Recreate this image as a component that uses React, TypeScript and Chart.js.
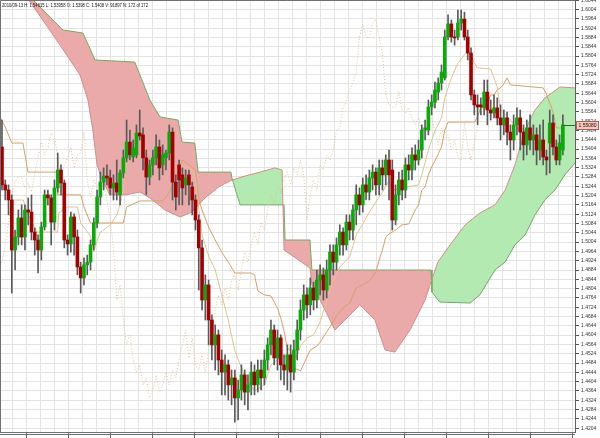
import React, { useEffect, useRef } from "react";
import { Chart, registerables } from "chart.js";

Chart.register(...registerables);

const HEADER = "2010/09-13 H: 1.54615 L: 1.53958 O: 1.5398 C: 1.5408 V: 91897 N: 172 of 172";

const opens = [
  1.5413, 1.525, 1.5228, 1.5185, 1.497, 1.5026, 1.5108, 1.5026, 1.5142, 1.5133,
  1.5047, 1.5013, 1.497, 1.5069, 1.5207, 1.5194, 1.509, 1.5237, 1.5314, 1.5258,
  1.5013, 1.4996, 1.5112, 1.5026, 1.4897, 1.485, 1.4906, 1.4918, 1.4992, 1.5086,
  1.5198, 1.5262, 1.5288, 1.528, 1.5237, 1.5258, 1.5207, 1.5301, 1.5366, 1.5434,
  1.537, 1.5379, 1.5473, 1.5465, 1.5366, 1.5284, 1.5336, 1.5366, 1.5413, 1.5336,
  1.5366, 1.5387, 1.5477, 1.5262, 1.5336, 1.5293, 1.525, 1.5293, 1.5241, 1.5185,
  1.5099, 1.4979, 1.4755, 1.482, 1.4669, 1.4562, 1.4605, 1.4497, 1.4445, 1.4476,
  1.439, 1.442, 1.4334, 1.4368, 1.4433, 1.4359, 1.439, 1.4445, 1.439, 1.4454,
  1.442, 1.4497, 1.4562, 1.4626, 1.4506, 1.4592, 1.4476, 1.4454, 1.4519, 1.4445,
  1.454, 1.4626, 1.4712, 1.4777, 1.4734, 1.4807, 1.4755, 1.4841, 1.4863, 1.4798,
  1.4884, 1.4961, 1.4918, 1.4992, 1.5047, 1.4992, 1.509, 1.5056, 1.5142, 1.5207,
  1.5164, 1.525, 1.5219, 1.528, 1.5305, 1.525, 1.5323, 1.5293, 1.5357, 1.5314,
  1.5099, 1.5207, 1.5271, 1.5228, 1.5336, 1.5314, 1.5379, 1.5357, 1.54, 1.5486,
  1.5486, 1.5585, 1.5606, 1.5649, 1.5688, 1.571, 1.5886, 1.5942, 1.5886, 1.5886,
  1.5946, 1.5963, 1.5886, 1.5817, 1.5637, 1.5594, 1.5594, 1.5581, 1.5649, 1.5572,
  1.5559, 1.5581, 1.5538, 1.5508, 1.5538, 1.5477, 1.5443, 1.5508, 1.5538, 1.5477,
  1.5422, 1.5495, 1.5443, 1.5465, 1.54, 1.5443, 1.537, 1.543, 1.5516, 1.5413,
  1.5357, 1.54,
];

const closes = [
  1.525, 1.5228, 1.5185, 1.497, 1.5026, 1.5108, 1.5026, 1.5142, 1.5133, 1.5047,
  1.5013, 1.497, 1.5069, 1.5207, 1.5194, 1.509, 1.5237, 1.5314, 1.5258, 1.5013,
  1.4996, 1.5112, 1.5026, 1.4897, 1.485, 1.4906, 1.4918, 1.4992, 1.5086, 1.5198,
  1.5262, 1.5288, 1.528, 1.5237, 1.5258, 1.5219, 1.5301, 1.5366, 1.5434, 1.5379,
  1.5409, 1.5473, 1.546, 1.5366, 1.5284, 1.5336, 1.5366, 1.5413, 1.5323, 1.5379,
  1.5387, 1.5477, 1.5262, 1.5198, 1.5271, 1.5237, 1.528, 1.525, 1.5185, 1.5099,
  1.4979, 1.4755, 1.482, 1.4669, 1.4562, 1.4605, 1.4497, 1.4445, 1.4476, 1.439,
  1.442, 1.4334, 1.4368, 1.4433, 1.4359, 1.439, 1.4445, 1.439, 1.4454, 1.442,
  1.4497, 1.4562, 1.4626, 1.4506, 1.4592, 1.4476, 1.4454, 1.4519, 1.4445, 1.454,
  1.4626, 1.4712, 1.4777, 1.4734, 1.4807, 1.4755, 1.4841, 1.4863, 1.4798, 1.4884,
  1.4961, 1.4918, 1.4992, 1.5047, 1.4992, 1.509, 1.5056, 1.5142, 1.5207, 1.5164,
  1.525, 1.5219, 1.528, 1.5305, 1.525, 1.5323, 1.5293, 1.5357, 1.5293, 1.5099,
  1.5207, 1.5271, 1.5228, 1.5336, 1.5314, 1.5379, 1.5357, 1.54, 1.5486, 1.5495,
  1.5585, 1.5606, 1.5658, 1.5688, 1.5735, 1.5886, 1.5942, 1.5886, 1.5882, 1.5946,
  1.5963, 1.5886, 1.5817, 1.5637, 1.5594, 1.5585, 1.5585, 1.5649, 1.5572, 1.5559,
  1.5581, 1.5538, 1.5508, 1.5538, 1.5477, 1.5443, 1.5508, 1.5538, 1.5477, 1.5422,
  1.5495, 1.5443, 1.5465, 1.54, 1.5443, 1.537, 1.5357, 1.5516, 1.5413, 1.5357,
  1.543, 1.5508,
];

const highs = [
  1.5529, 1.5271, 1.525, 1.5207, 1.5056, 1.5142, 1.5164, 1.5164, 1.5194, 1.5207,
  1.5065, 1.5035, 1.509, 1.5228, 1.5228, 1.5207, 1.5271, 1.5387, 1.5336, 1.5271,
  1.5035, 1.5133, 1.5125, 1.5056, 1.4918, 1.4936, 1.4948, 1.5013, 1.5108, 1.5228,
  1.5305, 1.5323, 1.5336, 1.5314, 1.5293, 1.5357, 1.5314, 1.54, 1.5529, 1.5486,
  1.5443, 1.5508, 1.5572, 1.5495, 1.54, 1.5357, 1.54, 1.5465, 1.5443, 1.5422,
  1.54, 1.5508, 1.5495, 1.5293, 1.5357, 1.5323, 1.5314, 1.5314, 1.5262, 1.5207,
  1.5121, 1.5013, 1.4863, 1.4841, 1.4691, 1.4648, 1.4626, 1.454, 1.4519, 1.4497,
  1.4454, 1.4454, 1.4411, 1.4476, 1.4454, 1.4433, 1.4489, 1.4476, 1.4497, 1.4497,
  1.454, 1.4592, 1.4669, 1.4648, 1.4626, 1.4605, 1.4519, 1.4562, 1.4562, 1.4583,
  1.4669, 1.4755, 1.482, 1.4807, 1.485, 1.4832, 1.4884, 1.4906, 1.4893, 1.4927,
  1.4992, 1.4992, 1.5022, 1.5078, 1.5065, 1.5121, 1.5121, 1.5164, 1.525, 1.5237,
  1.528, 1.5293, 1.5314, 1.5336, 1.5323, 1.5357, 1.5357, 1.5379, 1.54, 1.5357,
  1.525, 1.5305, 1.5314, 1.5366, 1.5379, 1.5409, 1.5422, 1.5443, 1.5508, 1.5529,
  1.5615, 1.5637, 1.5692, 1.571, 1.5766, 1.5916, 1.5981, 1.5959, 1.5916, 1.6002,
  1.6002, 1.5993, 1.5916, 1.5839, 1.5658, 1.5637, 1.5624, 1.5701, 1.5701, 1.5615,
  1.5637, 1.5624, 1.5594, 1.5572, 1.5563, 1.5508, 1.5551, 1.5581, 1.5572, 1.5508,
  1.5529, 1.5551, 1.5508, 1.5495, 1.5508, 1.5529, 1.54, 1.5572, 1.5551, 1.5443,
  1.5465, 1.5551,
];

const lows = [
  1.5228, 1.5185, 1.5121, 1.4785, 1.4884, 1.4992, 1.4992, 1.497, 1.5078, 1.5013,
  1.4948, 1.4871, 1.4927, 1.5056, 1.5164, 1.4992, 1.5056, 1.5219, 1.5207, 1.4979,
  1.4948, 1.4961, 1.4948, 1.4863, 1.4785, 1.482, 1.4863, 1.4884, 1.497, 1.5065,
  1.5164, 1.5228, 1.525, 1.5207, 1.5185, 1.5185, 1.5164, 1.528, 1.5349, 1.5357,
  1.5349, 1.5366, 1.5443, 1.5314, 1.5207, 1.525, 1.5293, 1.5336, 1.5271, 1.5293,
  1.5314, 1.5357, 1.5185, 1.5142, 1.5164, 1.5164, 1.5207, 1.5164, 1.5121, 1.5056,
  1.4798, 1.4712, 1.4669, 1.4562, 1.4497, 1.4454, 1.4433, 1.4347, 1.4347, 1.4325,
  1.4304, 1.423, 1.4239, 1.4325, 1.4304, 1.4282, 1.4347, 1.4347, 1.4359, 1.4368,
  1.439, 1.4454, 1.4519, 1.4476, 1.4454, 1.4411, 1.439, 1.4368, 1.4359, 1.4411,
  1.4497, 1.4583, 1.4669, 1.4678, 1.4691, 1.4712, 1.4721, 1.4777, 1.4755, 1.4764,
  1.482, 1.4863, 1.4884, 1.4948, 1.4948, 1.497, 1.5013, 1.5013, 1.5078, 1.5121,
  1.5133, 1.5185, 1.5185, 1.5228, 1.5207, 1.5207, 1.5228, 1.525, 1.5185, 1.5056,
  1.5078, 1.5164, 1.5185, 1.5194, 1.5271, 1.5271, 1.5314, 1.5336, 1.5366, 1.5443,
  1.5465, 1.5551, 1.5581, 1.5615, 1.5658, 1.5701, 1.5873, 1.5864, 1.5851, 1.5873,
  1.5916, 1.5873, 1.5787, 1.5615, 1.5551, 1.5508, 1.5551, 1.5551, 1.5508, 1.5529,
  1.5538, 1.5508, 1.5443, 1.5465, 1.5422, 1.5357, 1.54, 1.5465, 1.54, 1.5357,
  1.5379, 1.54, 1.5379, 1.5336, 1.5357, 1.5336, 1.5293, 1.5301, 1.5379, 1.5336,
  1.5336, 1.5379,
];

// [bar index, price]
const tenkan: [number, number][] = [
  [-0.6, 1.5293], [3, 1.5185], [6.5, 1.5185], [8, 1.5121], [10.7, 1.5047], [17, 1.5047],
  [17.3, 1.5129], [20, 1.5155], [23, 1.5155], [24, 1.5086], [27, 1.503], [28, 1.4961],
  [29, 1.5009], [30, 1.5047], [31, 1.5056], [33, 1.5078], [34, 1.5099], [35, 1.5121],
  [36, 1.5164], [37, 1.5232], [38, 1.5349], [39, 1.5357], [42, 1.537], [45, 1.5391],
  [48, 1.5391], [51, 1.5357], [53, 1.5327], [57, 1.5327], [59, 1.5284], [60, 1.5146],
  [61, 1.5035], [63, 1.4944], [65, 1.4884], [67, 1.4777], [69, 1.4669], [71, 1.4536],
  [74, 1.4428], [77, 1.4364], [80, 1.439], [82, 1.4476], [85, 1.451], [90, 1.4514],
  [91, 1.4557], [93, 1.4592], [95, 1.4605], [97, 1.4661], [99, 1.4755], [101, 1.4837],
  [103, 1.4897], [106, 1.494], [108, 1.5035], [110, 1.5082], [112, 1.5133], [114, 1.5176],
  [116, 1.5219], [118, 1.5267], [119, 1.5228], [127, 1.525], [128, 1.5293], [130, 1.54],
  [132, 1.5482], [134, 1.5538], [135, 1.5624], [137, 1.571], [139, 1.5774], [141, 1.5809],
  [142, 1.583], [143, 1.5809], [144, 1.5774], [145, 1.5753], [149, 1.5748], [150, 1.571],
  [151, 1.5671], [152, 1.5572], [155, 1.5529], [157, 1.5495], [159, 1.549], [161, 1.5469],
  [163, 1.5456], [165, 1.5456], [167, 1.543], [171, 1.543],
];

const kijun: [number, number][] = [
  [-0.6, 1.5542], [1, 1.5499], [3, 1.543], [6.4, 1.543], [7.9, 1.5305], [16.8, 1.5305],
  [17, 1.5207], [24, 1.5207], [25, 1.5155], [27, 1.5086], [37, 1.5086], [38, 1.5155],
  [42, 1.5181], [49, 1.5181], [50, 1.5198], [51, 1.5219], [53, 1.5271], [54, 1.5318],
  [55, 1.5357], [59, 1.5314], [60, 1.5185], [61, 1.5142], [63, 1.5069], [65, 1.5013],
  [67, 1.4961], [69, 1.4918], [71, 1.4871], [76, 1.4871], [77, 1.4863], [78, 1.4794],
  [80, 1.4777], [82, 1.4772], [83, 1.4746], [84, 1.4721], [85, 1.4678], [86, 1.4622],
  [87, 1.4549], [88, 1.4536], [89, 1.4463], [91, 1.445], [94, 1.454], [96, 1.4557],
  [97, 1.4574], [98, 1.4596], [100, 1.4639], [102, 1.4686], [104, 1.4721], [106, 1.4742],
  [108, 1.4807], [110, 1.482], [112, 1.4837], [114, 1.4875], [115, 1.4927], [116, 1.497],
  [117, 1.5026], [118, 1.5039], [120, 1.5056], [122, 1.5078], [124, 1.5082], [125, 1.5112],
  [126, 1.5142], [127, 1.5164], [128, 1.5228], [129, 1.5241], [130, 1.5293], [131, 1.5327],
  [132, 1.5353], [133, 1.5383], [134, 1.5413], [135, 1.5486], [136, 1.552], [144, 1.552],
  [145, 1.5542], [146, 1.5585], [148, 1.5598], [149, 1.5637], [150, 1.5637], [151, 1.5658],
  [152, 1.5667], [153, 1.5684], [154, 1.571], [155, 1.568], [165, 1.5667], [166, 1.5641],
  [167, 1.5602], [168, 1.5563], [169, 1.5495], [171, 1.5495],
];

const senkouA: [number, number][] = [
  [-0.6, 1.6239], [8.2, 1.6045], [17.7, 1.5851], [23.8, 1.5723], [26.2, 1.5615],
  [27.7, 1.5486], [29.0, 1.5336], [30.5, 1.5271], [32.9, 1.5207], [37.5, 1.5207],
  [42.1, 1.5219], [45.1, 1.5194], [49.7, 1.5142], [54.3, 1.5112], [57.9, 1.5133],
  [61.9, 1.5194], [66.5, 1.5245], [70.1, 1.5271], [74.1, 1.5288], [78.7, 1.5305],
  [83.2, 1.5323], [85.4, 1.5314], [86.0, 1.497], [93.9, 1.4893], [94.5, 1.482],
  [97, 1.4755], [101.5, 1.4626], [104.6, 1.4669], [109.1, 1.4734], [113.7, 1.4669],
  [116.8, 1.454], [119.8, 1.4531], [124.4, 1.4626], [129, 1.4755], [130.5, 1.482],
  [132.9, 1.4918], [136.6, 1.4992], [141.2, 1.5078], [145.7, 1.5129], [150.3, 1.5164],
  [153.4, 1.5228], [156.4, 1.5336], [159.5, 1.5486], [162.5, 1.5572], [165.5, 1.5624],
  [168, 1.5649], [170.1, 1.5671], [174.7, 1.5667],
];

const senkouB: [number, number][] = [
  [-0.6, 1.626], [9.5, 1.6045], [18.6, 1.5916], [24.7, 1.5903], [28.4, 1.5787],
  [40.5, 1.5778], [45.1, 1.5615], [48.2, 1.5542], [53.7, 1.5529], [54.9, 1.5434],
  [58.8, 1.543], [59.8, 1.5305], [69.8, 1.5305], [70.1, 1.528], [72.6, 1.5164],
  [86.0, 1.5164], [86.3, 1.5013], [93.9, 1.5013], [94.5, 1.4884], [130.8, 1.4884],
  [131.1, 1.4789], [133.5, 1.4746], [142.7, 1.4742], [145.7, 1.4777], [150.3, 1.4884],
  [153.4, 1.4918], [156.4, 1.4992], [159.5, 1.5035], [162.5, 1.5121], [165.5, 1.5185],
  [168.6, 1.5228], [171.6, 1.5293], [174.7, 1.5344],
];

const CHIKOU_SHIFT = 26;
const X_MIN = -0.6;
const X_MAX = 174.7;
const Y_MIN = 1.41874;
const Y_MAX = 1.6045;
const Y_TICK_START = 1.4204;
const Y_TICK_STEP = 0.004;
const Y_TICK_COUNT = 47;
const X_GRID_START = 3.26;
const X_GRID_STEP = 4.268;

const toPts = (a: [number, number][]) => a.map(([x, y]) => ({ x, y }));

export default function App() {
  const ref = useRef<HTMLCanvasElement>(null);

  useEffect(() => {
    const canvas = ref.current;
    if (!canvas) return;

    const isUp = closes.map((c, i) => c >= opens[i]);
    const xGrid: number[] = [];
    for (let v = X_GRID_START; v <= X_MAX; v += X_GRID_STEP) xGrid.push(v);
    const yTicks: number[] = [];
    for (let k = 0; k < Y_TICK_COUNT; k++) yTicks.push(+(Y_TICK_START + k * Y_TICK_STEP).toFixed(4));

    const decor = {
      id: "decor",
      afterDraw(chart: any) {
        const { ctx, chartArea: a, scales } = chart;
        ctx.save();
        ctx.strokeStyle = "#707070";
        ctx.lineWidth = 1;
        ctx.beginPath();
        ctx.moveTo(a.left + 0.5, a.bottom);
        ctx.lineTo(a.left + 0.5, a.top + 0.5);
        ctx.lineTo(a.right, a.top + 0.5);
        ctx.moveTo(a.left, a.bottom + 2.5);
        ctx.lineTo(a.right, a.bottom + 2.5);
        ctx.stroke();

        // header text
        ctx.font = "5px 'Liberation Sans', Arial, sans-serif";
        ctx.fillStyle = "#111";
        ctx.textBaseline = "alphabetic";
        const w = ctx.measureText(HEADER).width;
        ctx.save();
        ctx.translate(2, 7);
        ctx.scale(146 / w, 1);
        ctx.fillText(HEADER, 0, 0);
        ctx.restore();

        // last price marker
        const last = closes[closes.length - 1];
        const py = Math.round(scales.y.getPixelForValue(last)) + 0.5;
        const lx = scales.x.getPixelForValue(closes.length - 1);
        ctx.strokeStyle = "#2a6a2a";
        ctx.beginPath();
        ctx.moveTo(lx, py);
        ctx.lineTo(a.right, py);
        ctx.stroke();
        ctx.fillStyle = "rgb(250,200,190)";
        ctx.fillRect(a.right + 1, py - 4.5, 23, 9);
        ctx.strokeStyle = "#b06060";
        ctx.strokeRect(a.right + 1.5, py - 4, 22, 8);
        ctx.fillStyle = "#111";
        ctx.font = "5px 'Liberation Sans', Arial, sans-serif";
        ctx.textBaseline = "middle";
        ctx.fillText(last.toFixed(5), a.right + 3.5, py + 0.5);
        ctx.restore();
      },
    };

    const chart = new Chart(canvas, {
      type: "bar",
      data: {
        datasets: [
          {
            type: "line",
            label: "Senkou B",
            data: toPts(senkouB),
            borderColor: "rgb(110,172,100)",
            borderWidth: 1,
            pointRadius: 0,
            fill: false,
            order: 20,
          } as any,
          {
            type: "line",
            label: "Senkou A",
            data: toPts(senkouA),
            borderColor: "rgb(212,140,140)",
            borderWidth: 1,
            pointRadius: 0,
            fill: { target: 0, above: "rgb(178,234,178)", below: "rgb(234,170,170)" },
            order: 19,
          } as any,
          {
            type: "line",
            label: "Chikou",
            data: closes.map((c, i) => ({ x: i - CHIKOU_SHIFT, y: c })),
            borderColor: "rgb(228,196,146)",
            borderWidth: 1,
            borderDash: [1, 2],
            pointRadius: 0,
            fill: false,
            order: 15,
          } as any,
          {
            type: "line",
            label: "Kijun",
            data: toPts(kijun),
            borderColor: "rgb(214,160,104)",
            borderWidth: 1,
            pointRadius: 0,
            fill: false,
            order: 12,
          } as any,
          {
            type: "line",
            label: "Tenkan",
            data: toPts(tenkan),
            borderColor: "rgb(224,194,146)",
            borderWidth: 1,
            pointRadius: 0,
            fill: false,
            order: 11,
          } as any,
          {
            type: "bar",
            label: "Wicks",
            data: lows.map((l, i) => ({ x: i, y: [l, highs[i]] })),
            backgroundColor: "rgb(90,90,90)",
            barThickness: 1,
            grouped: false,
            order: 4,
          } as any,
          {
            type: "bar",
            label: "Bodies",
            data: opens.map((o, i) => ({ x: i, y: [o, closes[i]] })),
            backgroundColor: isUp.map((u) => (u ? "rgb(10,170,10)" : "rgb(165,0,0)")),
            borderWidth: 0,
            barThickness: 3,
            minBarLength: 1,
            grouped: false,
            order: 3,
          } as any,
        ],
      },
      options: {
        animation: false,
        responsive: false,
        devicePixelRatio: 1,
        events: [],
        layout: { padding: 0 },
        plugins: {
          legend: { display: false },
          tooltip: { enabled: false },
          title: { display: false },
          filler: { drawTime: "beforeDatasetsDraw", propagate: false },
        } as any,
        scales: {
          x: {
            type: "linear",
            min: X_MIN,
            max: X_MAX,
            offset: false,
            position: "bottom",
            afterBuildTicks: (s: any) => {
              s.ticks = xGrid.map((v) => ({ value: v }));
            },
            afterFit: (s: any) => {
              s.height = 6;
            },
            ticks: { display: false },
            grid: {
              offset: false,
              color: "#e4e4e4",
              lineWidth: 1,
              tickLength: 6,
              tickColor: (c: any) => (c.index % 3 === 1 ? "#666" : "rgba(0,0,0,0)"),
            },
            border: { display: true, color: "#707070" },
          },
          y: {
            type: "linear",
            position: "right",
            min: Y_MIN,
            max: Y_MAX,
            beginAtZero: false,
            afterBuildTicks: (s: any) => {
              s.ticks = yTicks.map((v) => ({ value: v }));
            },
            afterFit: (s: any) => {
              s.width = 25;
              s.paddingTop = 0;
              s.paddingBottom = 0;
            },
            ticks: {
              autoSkip: false,
              padding: 2,
              color: "#333",
              font: { size: 5, family: "'Liberation Sans', Arial, sans-serif" },
              callback: (v: any) => Number(v).toFixed(4),
            },
            grid: { color: "#e4e4e4", lineWidth: 1, tickLength: 4, tickColor: "#555" },
            border: { display: true, color: "#606060" },
          },
        },
      } as any,
      plugins: [decor],
    });

    return () => chart.destroy();
  }, []);

  return (
    <div style={{ position: "absolute", left: 0, top: 0, width: 600, height: 438 }}>
      <canvas ref={ref} width={600} height={438} style={{ display: "block" }} />
    </div>
  );
}
